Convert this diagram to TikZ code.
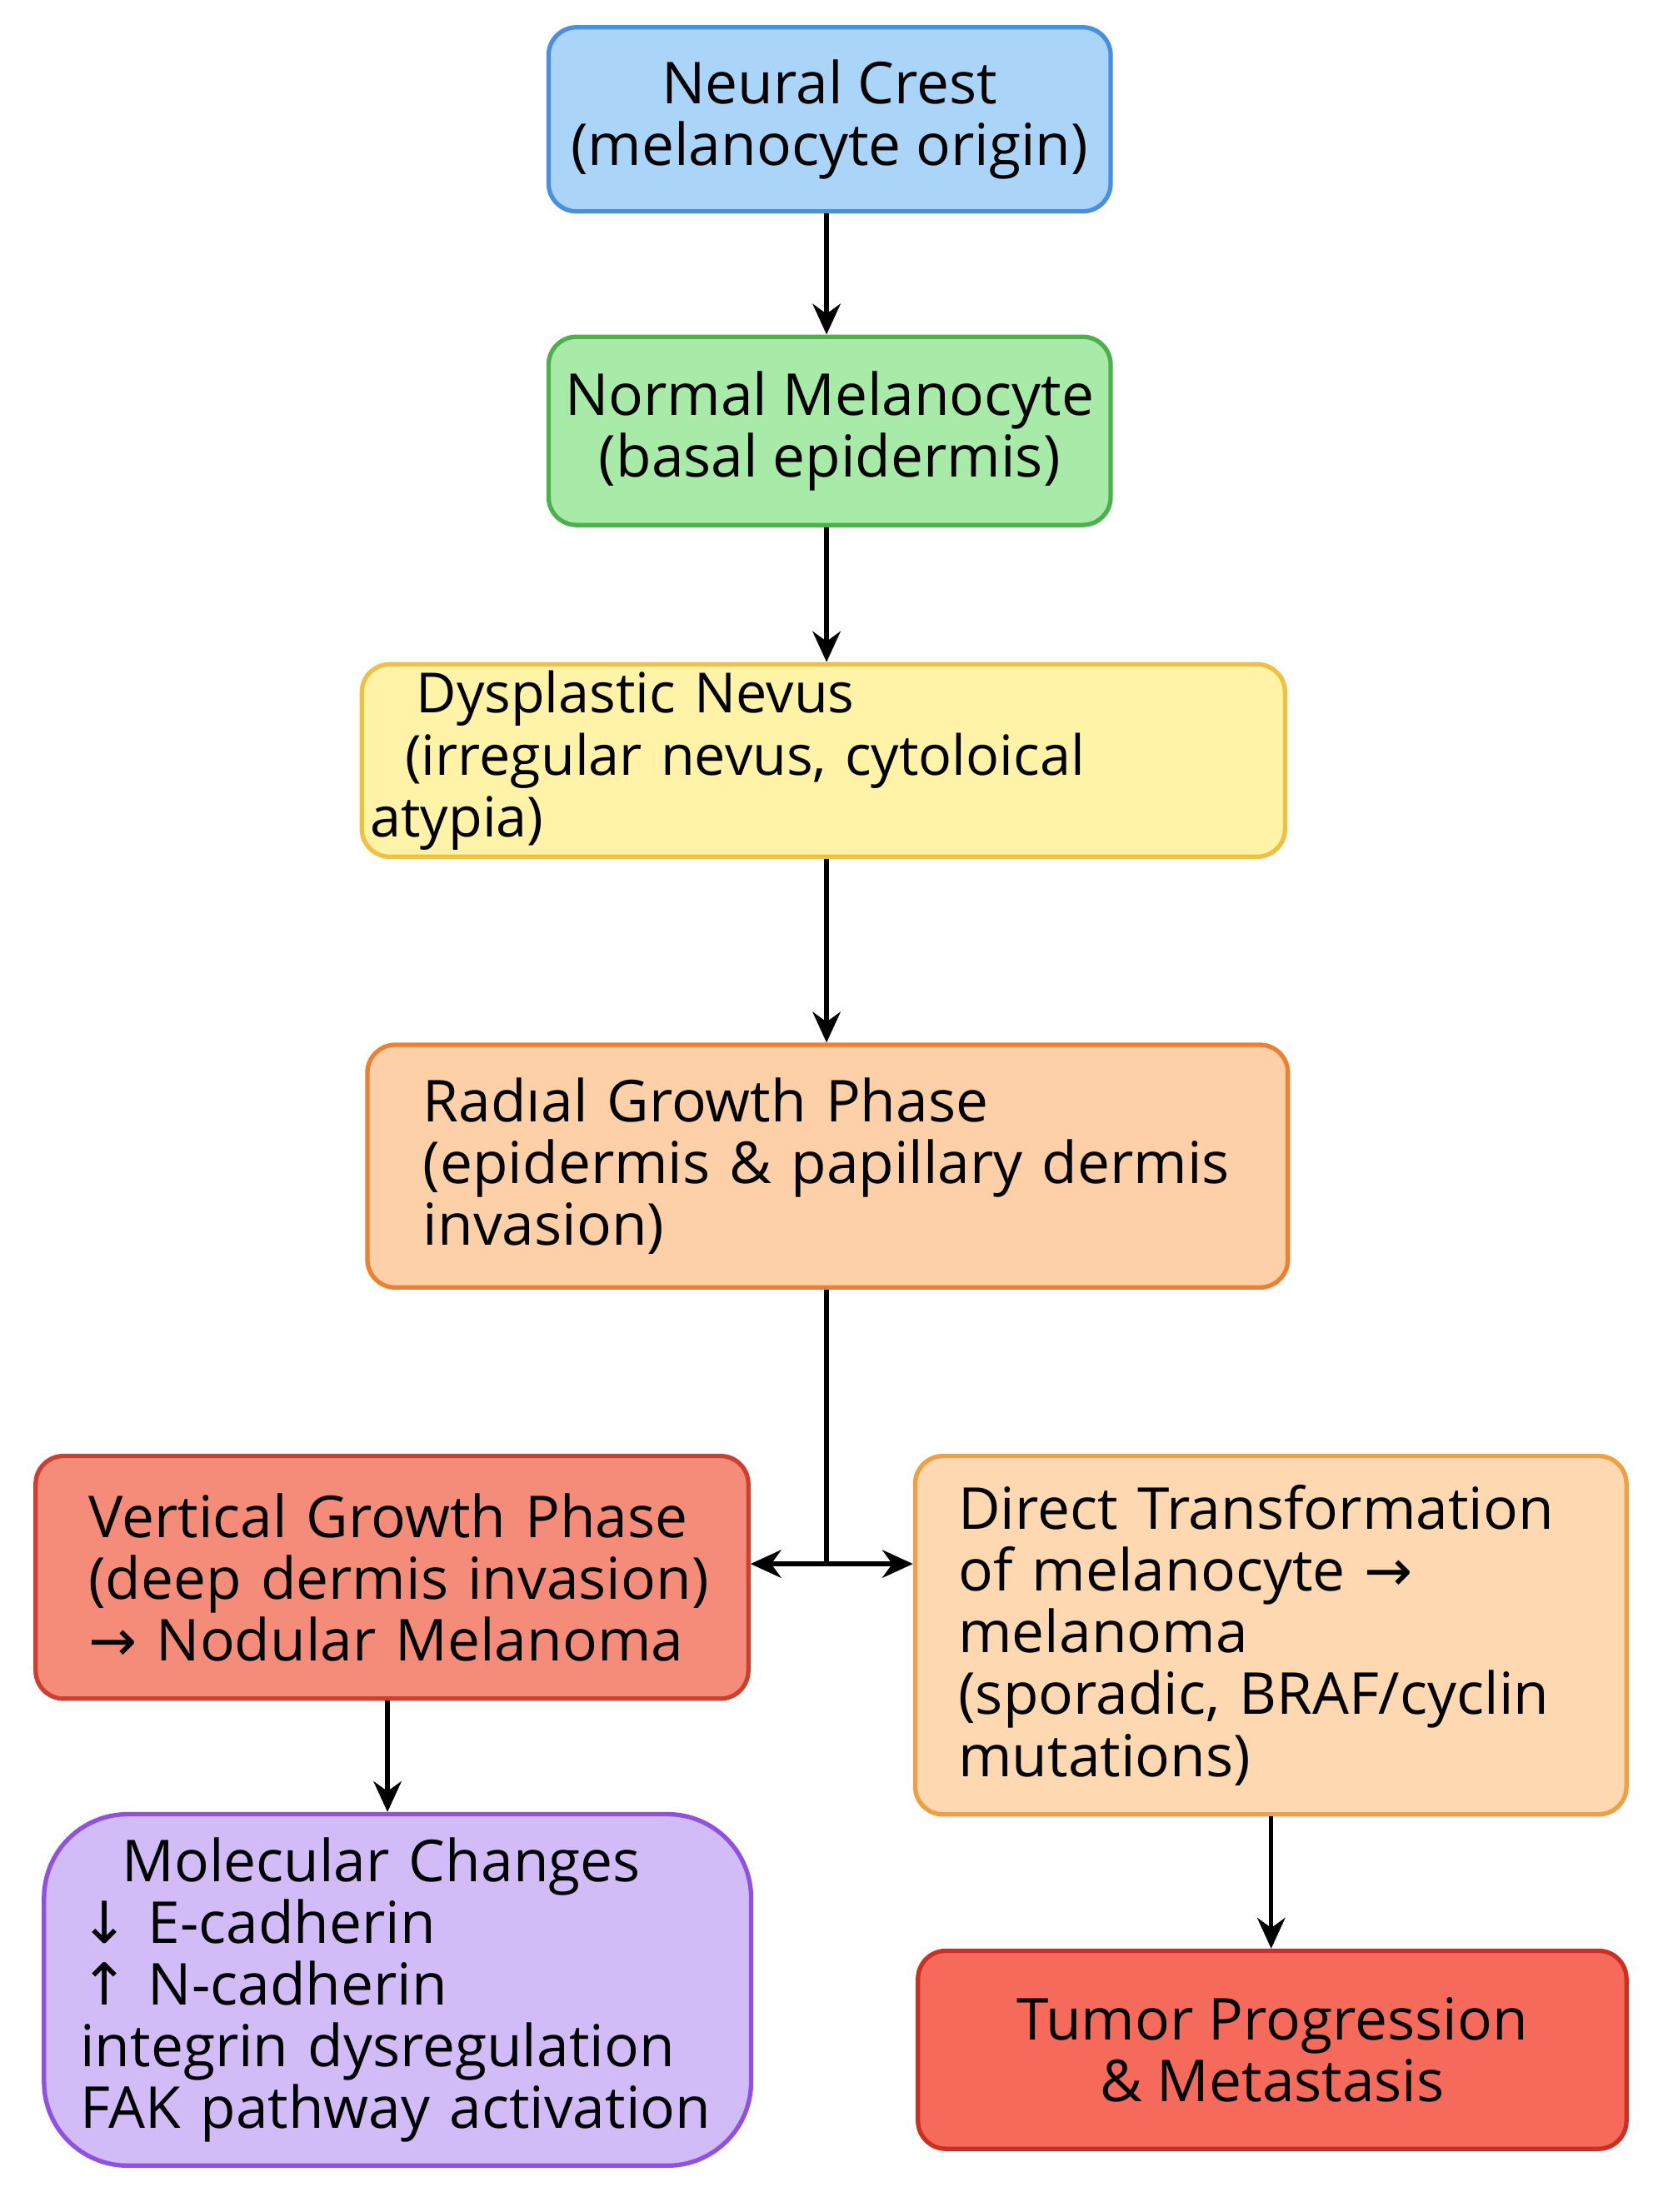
\documentclass[tikz,border=0pt]{standalone}
\usepackage{fontspec}
\setmainfont{Open Sans}
\newfontfamily\arrf{DejaVu Sans}
\newcommand{\rarr}{{\arrf →}}
\usetikzlibrary{arrows.meta}
\definecolor{bF}{HTML}{AAD4F8}\definecolor{bD}{HTML}{4A8EE0}
\definecolor{gF}{HTML}{A8EAA8}\definecolor{gD}{HTML}{4CB04C}
\definecolor{yF}{HTML}{FFF3A8}\definecolor{yD}{HTML}{F0C040}
\definecolor{oF}{HTML}{FDD0A8}\definecolor{oD}{HTML}{EE8030}
\definecolor{rF}{HTML}{F58C7A}\definecolor{rD}{HTML}{CC4030}
\definecolor{pF}{HTML}{FDD8B0}\definecolor{pD}{HTML}{F0A040}
\definecolor{vF}{HTML}{D2BCF8}\definecolor{vD}{HTML}{9050E0}
\definecolor{tF}{HTML}{F56A5A}\definecolor{tD}{HTML}{CC3020}
\tikzset{
 box/.style={draw, line width=0.9pt, rounded corners=0.2cm, anchor=north west,
   font=\fontsize{11.8pt}{12.6pt}\selectfont, inner ysep=0pt},
 arr/.style={line width=0.9pt, -{Stealth[length=0.22cm,width=0.2cm]}}
}
\begin{document}
\begin{tikzpicture}[x=0.01cm,y=-0.01cm]
\useasboundingbox (0,0) rectangle (1200,1587);
\node[box,fill=bF,draw=bD,minimum width=4.03cm,minimum height=1.32cm,align=center] (nc) at (392,18) {Neural Crest\\(melanocyte origin)};
\node[box,fill=gF,draw=gD,minimum width=4.03cm,minimum height=1.35cm,align=center,inner xsep=0pt] (nm) at (392,240) {Normal Melanocyte\\(basal epidermis)};
\node[box,fill=yF,draw=yD,minimum width=6.62cm,minimum height=1.38cm,align=left,text width=6.5cm,inner xsep=0.06cm,font=\fontsize{11.3pt}{12.6pt}\selectfont] (dn) at (258,475) {\hspace*{0.33cm}Dysplastic Nevus\\\hspace*{0.25cm}(irregular nevus, cytoloical atypia)};
\node[box,fill=oF,draw=oD,minimum width=6.60cm,minimum height=1.74cm,align=left,text width=5.80cm,inner xsep=0.4cm] (rg) at (262,748) {Radıal Growth Phase\\(epidermis \& papillary dermis\\invasion)};
\node[box,fill=rF,draw=rD,minimum width=5.11cm,minimum height=1.74cm,align=left,text width=4.55cm,inner xsep=0.28cm] (vg) at (24,1043) {\hspace*{0.1cm}Vertical Growth Phase\\\hspace*{0.1cm}(deep dermis invasion)\\\hspace*{0.1cm}\rarr\ Nodular Melanoma};
\node[box,fill=pF,draw=pD,minimum width=5.10cm,minimum height=2.57cm,align=left,text width=4.58cm,inner xsep=0.26cm] (dt) at (655,1043) {\hspace*{0.05cm}Direct Transformation\\\hspace*{0.05cm}of melanocyte \rarr\\\hspace*{0.05cm}melanoma\\\hspace*{0.05cm}(sporadic, BRAF/cyclin\\\hspace*{0.05cm}mutations)};
\node[box,fill=vF,draw=vD,rounded corners=0.6cm,minimum width=5.07cm,minimum height=2.52cm,align=left,text width=4.55cm,inner xsep=0.26cm] (mc) at (30,1300) {\hspace*{0.3cm}Molecular Changes\\{\arrf ↓} E-cadherin\\{\arrf ↑} N-cadherin\\integrin dysregulation\\FAK pathway activation};
\node[box,fill=tF,draw=tD,minimum width=5.08cm,minimum height=1.42cm,align=center] (tp) at (657,1398) {Tumor Progression\\\& Metastasis};
\draw[arr] (593,0 |- nc.south) -- (593,0 |- nm.north);
\draw[arr] (593,0 |- nm.south) -- (593,0 |- dn.north);
\draw[arr] (593,0 |- dn.south) -- (593,0 |- rg.north);
\coordinate (j) at (593,1122);
\draw[line width=0.9pt] (593,0 |- rg.south) -- (j);
\draw[arr] (j) -- (vg.east |- j);
\draw[arr] (j) -- (dt.west |- j);
\draw[arr] (278,0 |- vg.south) -- (278,0 |- mc.north);
\draw[arr] (912,0 |- dt.south) -- (912,0 |- tp.north);
\end{tikzpicture}
\end{document}
